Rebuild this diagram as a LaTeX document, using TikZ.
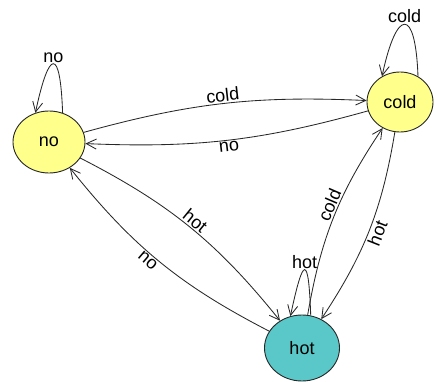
\documentclass[tikz,border=0pt]{standalone}
\usepackage{fontspec}
\setmainfont{Liberation Sans}
\usetikzlibrary{arrows.meta,shapes.geometric}
\definecolor{nodeyellow}{RGB}{255,255,140}
\definecolor{nodeteal}{RGB}{90,200,200}
\definecolor{edgegray}{RGB}{40,40,40}
\begin{document}
\begin{tikzpicture}[x=1pt,y=1pt,
  state/.style={ellipse, draw=black!85, line width=0.9pt, inner sep=0pt,
    font=\fontsize{18}{20}\selectfont},
  edge/.style={draw=edgegray, line width=0.85pt, -{Straight Barb[length=10pt,width=10pt]}},
  lab/.style={font=\fontsize{18}{20}\selectfont, inner sep=1.5pt, sloped, auto=left},
  looplab/.style={font=\fontsize{18}{20}\selectfont, inner sep=1pt, above}
]
\useasboundingbox (0,0) rectangle (436,381);
\node[state, fill=nodeyellow, minimum width=72pt, minimum height=62pt] (no) at (49,239) {no};
\node[state, fill=nodeyellow, minimum width=66pt, minimum height=60pt] (cold) at (400,279) {cold};
\node[state, fill=nodeteal, minimum width=75pt, minimum height=66pt] (hot) at (302,33) {hot};

\draw[edge] (no) to[bend left=9] node[lab] {cold} (cold);
\draw[edge] (cold) to[bend left=9] node[lab,swap] {no} (no);
\draw[edge] (no) to[bend left=12] node[lab] {hot} (hot);
\draw[edge] (hot) to[bend left=12] node[lab,swap,pos=0.54] {no} (no);
\draw[edge] (hot) to[bend left=12] node[lab,pos=0.55] {cold} (cold);
\draw[edge] (cold) to[bend left=12] node[lab,swap] {hot} (hot);

\draw[edge] (no.65) .. controls +(92:66) and +(78:66) .. (no.115)
  node[looplab, pos=0.5] {no};
\draw[edge] (cold.55) .. controls +(92:70) and +(78:70) .. (cold.125)
  node[looplab, pos=0.5] {cold};
\draw[edge] (hot.75) .. controls +(92:62) and +(78:62) .. (hot.110)
  node[looplab, pos=0.5] {hot};
\end{tikzpicture}
\end{document}
